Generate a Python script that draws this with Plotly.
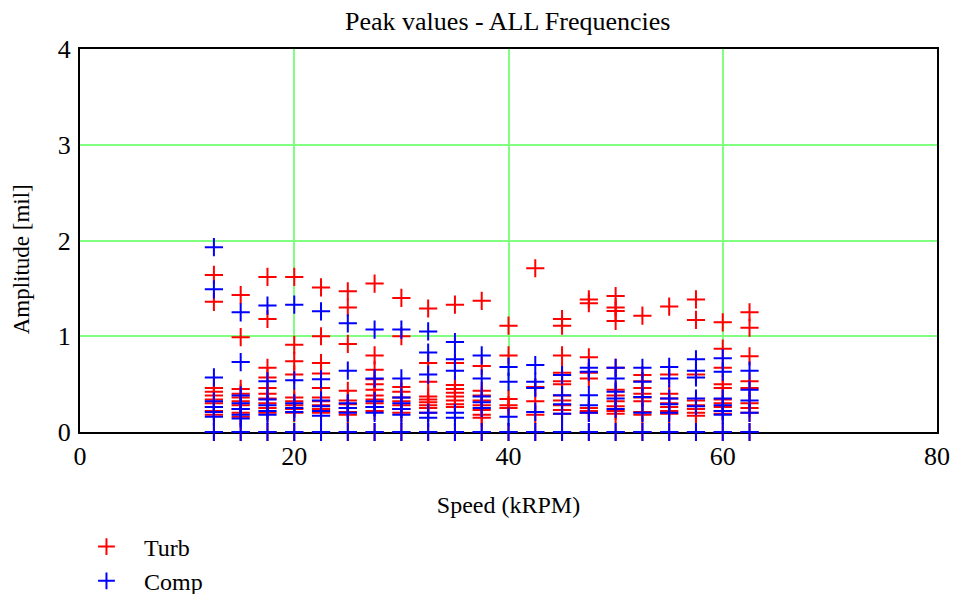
import plotly.graph_objects as go

speeds = [12.5, 15, 17.5, 20, 22.5, 25, 27.5, 30, 32.5, 35, 37.5, 40,
          42.5, 45, 47.5, 50, 52.5, 55, 57.5, 60, 62.5]

turb_vals = [
    [0, 1.64, 1.36, 0.46, 0.42, 0.38, 0.34, 0.30, 0.26, 0.22, 0.18],
    [0, 1.43, 0.99, 0.45, 0.40, 0.36, 0.32, 0.28, 0.24, 0.20, 0.16],
    [0, 1.62, 1.18, 0.67, 0.57, 0.46, 0.40, 0.35, 0.30, 0.25, 0.20],
    [0, 1.62, 0.91, 0.74, 0.60, 0.36, 0.32, 0.28, 0.24, 0.20],
    [0, 1.51, 1.00, 0.72, 0.61, 0.46, 0.36, 0.32, 0.28, 0.24, 0.20],
    [0, 1.47, 1.30, 0.92, 0.43, 0.33, 0.29, 0.25, 0.21, 0.18],
    [0, 1.55, 0.80, 0.65, 0.55, 0.50, 0.44, 0.38, 0.34, 0.30, 0.26, 0.22],
    [0, 1.40, 1.00, 0.47, 0.42, 0.36, 0.32, 0.28, 0.24, 0.20],
    [0, 1.29, 0.72, 0.525, 0.37, 0.34, 0.31, 0.28, 0.25, 0.20],
    [0, 1.33, 0.72, 0.49, 0.45, 0.41, 0.37, 0.33, 0.29, 0.26],
    [0, 1.37, 0.69, 0.43, 0.38, 0.33, 0.28, 0.23, 0.18, 0.15],
    [0, 1.11, 0.80, 0.345, 0.28, 0.25],
    [0, 1.71, 0.47, 0.32, 0.18],
    [0, 1.18, 1.11, 0.80, 0.62, 0.53, 0.50, 0.38, 0.33, 0.28, 0.23, 0.19],
    [0, 1.385, 1.345, 0.78, 0.62, 0.56, 0.25, 0.22, 0.20],
    [0, 1.42, 1.30, 1.265, 1.16, 0.67, 0.44, 0.38, 0.32, 0.27, 0.22, 0.19],
    [0, 1.215, 0.595, 0.53, 0.46, 0.40, 0.36, 0.32, 0.21, 0.18],
    [0, 1.31, 0.60, 0.40, 0.35, 0.30, 0.26, 0.22, 0.19],
    [0, 1.385, 1.17, 0.60, 0.33, 0.28, 0.24, 0.20, 0.17],
    [0, 1.145, 0.87, 0.67, 0.50, 0.46, 0.34, 0.30, 0.26, 0.22, 0.19],
    [0, 1.25, 1.09, 0.79, 0.53, 0.46, 0.30, 0.25, 0.20],
]

comp_vals = [
    [0, 1.93, 1.49, 0.57, 0.32, 0.26, 0.21, 0.16],
    [0, 1.25, 0.73, 0.38, 0.30, 0.24, 0.18, 0.14],
    [0, 1.32, 0.53, 0.34, 0.28, 0.22, 0.18],
    [0, 1.33, 0.54, 0.30, 0.25, 0.21],
    [0, 1.26, 0.55, 0.33, 0.27, 0.22, 0.17],
    [0, 1.135, 0.64, 0.30, 0.25, 0.20],
    [0, 1.07, 0.56, 0.32, 0.26, 0.20],
    [0, 1.07, 0.56, 0.36, 0.30, 0.24, 0.18],
    [0, 1.05, 0.83, 0.60, 0.20, 0.15],
    [0, 0.94, 0.76, 0.64, 0.20, 0.15],
    [0, 0.80, 0.56, 0.37, 0.31, 0.25],
    [0, 0.68, 0.525, 0.16],
    [0, 0.70, 0.525, 0.46, 0.21],
    [0, 0.595, 0.385, 0.29, 0.19],
    [0, 0.67, 0.63, 0.385, 0.28, 0.20],
    [0, 0.67, 0.56, 0.42, 0.35, 0.24],
    [0, 0.67, 0.525, 0.365, 0.20],
    [0, 0.68, 0.56, 0.35, 0.29, 0.20],
    [0, 0.76, 0.64, 0.57, 0.35, 0.27],
    [0, 0.77, 0.63, 0.35, 0.28, 0.22, 0.18],
    [0, 0.64, 0.44, 0.33, 0.20],
]

x_ticks = [0, 20, 40, 60, 80]
y_ticks = [0, 1, 2, 3, 4]

def flatten(vals):
    xs, ys = [], []
    for s, col in zip(speeds, vals):
        for v in col:
            xs.append(s)
            ys.append(v)
    return xs, ys

tx, ty = flatten(turb_vals)
cx, cy = flatten(comp_vals)

serif = "Liberation Serif"

fig = go.Figure()
fig.add_trace(go.Scatter(
    x=tx, y=ty, mode="markers", name="Turb", cliponaxis=False,
    marker=dict(symbol="cross-thin", size=13, line=dict(color="#ff0000", width=2)),
))
fig.add_trace(go.Scatter(
    x=cx, y=cy, mode="markers", name="Comp", cliponaxis=False,
    marker=dict(symbol="cross-thin", size=13, line=dict(color="#0000ff", width=2)),
))

fig.update_layout(
    width=958, height=594,
    margin=dict(l=80, r=21, t=49, b=162, autoexpand=False),
    paper_bgcolor="white", plot_bgcolor="white",
    font=dict(family=serif, size=22, color="black"),
    title=dict(text="Peak values - ALL Frequencies", x=0.53, xanchor="center",
               y=0.965, yanchor="middle", font=dict(family=serif, size=26)),
    showlegend=True,
    legend=dict(xref="container", yref="container", x=0.072, xanchor="left",
                y=0.117, yanchor="top", itemwidth=65,
                font=dict(family=serif, size=24), bgcolor="rgba(0,0,0,0)",
                tracegroupgap=0, itemsizing="constant"),
    annotations=[dict(text="Amplitude [mil]", textangle=-90, xref="paper", yref="paper",
                      x=-0.068, y=0.45, xanchor="center", yanchor="middle",
                      showarrow=False, font=dict(family=serif, size=23))],
)
fig.update_xaxes(
    range=[0, 80], tickvals=x_ticks, ticks="", showgrid=True,
    gridcolor="rgb(128,255,128)", gridwidth=1.5, layer="below traces",
    showline=True, linecolor="black", linewidth=2, mirror=True, zeroline=False,
    title=dict(text="Speed (kRPM)", standoff=26, font=dict(family=serif, size=24)),
    tickfont=dict(family=serif, size=26),
)
fig.update_yaxes(
    range=[0, 4], tickvals=y_ticks, ticks="", showgrid=True,
    gridcolor="rgb(128,255,128)", gridwidth=1.5, layer="below traces",
    showline=True, linecolor="black", linewidth=2, mirror=True, zeroline=False,
    tickfont=dict(family=serif, size=26), ticklabelstandoff=2,
)

fig.write_html("out.html")
